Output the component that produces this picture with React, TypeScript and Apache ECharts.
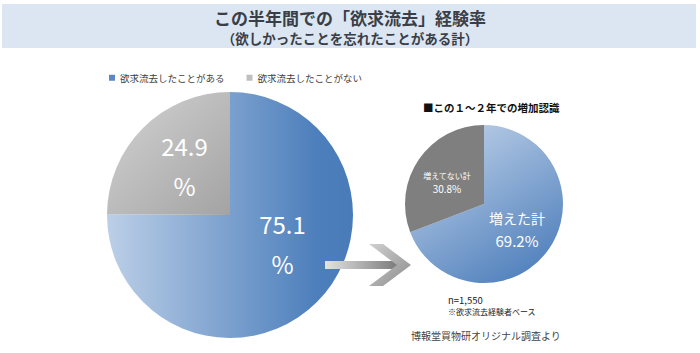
import React, { useEffect, useRef } from "react";
import * as echarts from "echarts";

const FONT = '"Noto Sans CJK JP", "Noto Sans", sans-serif';

const titleText = "この半年間での「欲求流去」経験率";
const subtitleText = "（欲しかったことを忘れたことがある計）";

const bigNames = ["欲求流去したことがある", "欲求流去したことがない"];
const bigValues = [75.1, 24.9];

const smallTitle = "■この１～２年での増加認識";
const smallNames = ["増えた計", "増えてない計"];
const smallValues = [69.2, 30.8];

const noteN = "n=1,550";
const noteBase = "※欲求流去経験者ベース";
const sourceText = "博報堂買物研オリジナル調査より";

export default function App() {
  const ref = useRef<HTMLDivElement>(null);

  useEffect(() => {
    document.body.style.margin = "0";
    const chart = echarts.init(ref.current!, null, { renderer: "svg" });

    const bigColors = [
      new echarts.graphic.LinearGradient(0, 0, 1, 0, [
        { offset: 0, color: "#bccfe7" },
        { offset: 0.85, color: "#4d7fbc" },
        { offset: 1, color: "#497bb9" },
      ]),
      new echarts.graphic.LinearGradient(0, 0, 1, 1, [
        { offset: 0, color: "#d4d4d4" },
        { offset: 1, color: "#a3a3a3" },
      ]),
    ];
    const smallColors = [
      new echarts.graphic.LinearGradient(0.25, 0, 0.85, 1, [
        { offset: 0, color: "#bccfe7" },
        { offset: 1, color: "#4a7cba" },
      ]),
      "#7f7f7f",
    ];

    const bigData = bigValues.map((v, i) => ({
      value: v,
      name: bigNames[i],
      itemStyle: { color: bigColors[i] },
    }));

    const smallData = smallValues.map((v, i) => ({
      value: v,
      name: smallNames[i],
      itemStyle: { color: smallColors[i] },
      label:
        i === 0
          ? {
              formatter: "{n|{b}}\n{v|{c}%}",
              rich: {
                n: { fontSize: 14, color: "#fff", fontFamily: FONT, lineHeight: 22, align: "center" },
                v: { fontSize: 15, color: "#fff", fontFamily: FONT, lineHeight: 22, align: "center" },
              },
            }
          : {
              formatter: "{n|{b}}\n{v|{c}%}",
              rich: {
                n: { fontSize: 8, color: "#fff", fontFamily: FONT, lineHeight: 13, align: "center" },
                v: { fontSize: 10, color: "#fff", fontFamily: FONT, lineHeight: 13, align: "center" },
              },
            },
    }));

    chart.setOption({
      animation: false,
      textStyle: { fontFamily: FONT },
      legend: {
        left: 104,
        top: 68,
        icon: "rect",
        itemWidth: 6,
        itemHeight: 6,
        itemGap: 22,
        textStyle: { fontSize: 9.5, color: "#404040", fontFamily: FONT },
        data: [
          { name: bigNames[0], itemStyle: { color: "#5b87c2" } },
          { name: bigNames[1], itemStyle: { color: "#bfbfbf" } },
        ],
        selectedMode: false,
      },
      graphic: [
        {
          type: "rect",
          z: 0,
          shape: { x: 2, y: 4, width: 694, height: 44 },
          style: { fill: "#dce6f2" },
        },
        {
          type: "text",
          x: 350,
          y: 17,
          style: {
            text: titleText,
            fontSize: 17,
            fontWeight: "bold",
            fontFamily: FONT,
            fill: "#3a3e47",
            align: "center",
            verticalAlign: "middle",
          },
        },
        {
          type: "text",
          x: 350,
          y: 38,
          style: {
            text: subtitleText,
            fontSize: 13.5,
            fontWeight: "bold",
            fontFamily: FONT,
            fill: "#3a3e47",
            align: "center",
            verticalAlign: "middle",
          },
        },
        {
          type: "text",
          x: 423,
          y: 107,
          style: {
            text: smallTitle,
            fontSize: 10.5,
            fontWeight: "bold",
            fontFamily: FONT,
            fill: "#111",
            align: "left",
            verticalAlign: "middle",
          },
        },
        {
          type: "rect",
          z: 100,
          shape: { x: 325, y: 261, width: 73, height: 8 },
          style: {
            fill: new echarts.graphic.LinearGradient(0, 0, 1, 0, [
              { offset: 0, color: "#e3e3e3" },
              { offset: 1, color: "#7a7a7a" },
            ]),
          },
        },
        {
          type: "polygon",
          z: 100,
          shape: {
            points: [
              [369, 244],
              [383, 244],
              [411, 265],
              [383, 286],
              [369, 286],
              [397, 265],
            ],
          },
          style: {
            fill: new echarts.graphic.LinearGradient(0, 0, 1, 1, [
              { offset: 0, color: "#d0d0d0" },
              { offset: 1, color: "#8c8c8c" },
            ]),
          },
        },
        {
          type: "text",
          x: 448,
          y: 300,
          style: {
            text: noteN,
            fontSize: 9.5,
            fontFamily: FONT,
            fill: "#222",
            align: "left",
            verticalAlign: "middle",
          },
        },
        {
          type: "text",
          x: 448,
          y: 311,
          style: {
            text: noteBase,
            fontSize: 8,
            fontFamily: FONT,
            fill: "#222",
            align: "left",
            verticalAlign: "middle",
          },
        },
        {
          type: "text",
          x: 411,
          y: 335,
          style: {
            text: sourceText,
            fontSize: 10,
            fontFamily: FONT,
            fill: "#444",
            align: "left",
            verticalAlign: "middle",
          },
        },
      ],
      series: [
        {
          type: "pie",
          center: [230, 215],
          radius: 123,
          startAngle: 90,
          clockwise: true,
          silent: true,
          itemStyle: { borderWidth: 0 },
          label: {
            show: true,
            position: "inside",
            formatter: (p: any) => p.value.toFixed(1) + "\n%",
            fontSize: 24,
            lineHeight: 40,
            color: "#ffffff",
            fontFamily: FONT,
          },
          labelLayout: (params: any) =>
            params.dataIndex === 0 ? { dx: 7, dy: -17 } : { dx: 0, dy: -4 },
          labelLine: { show: false },
          data: bigData,
        },
        {
          type: "pie",
          center: [484, 204],
          radius: 79,
          startAngle: 90,
          clockwise: true,
          silent: true,
          itemStyle: { borderWidth: 0 },
          label: { show: true, position: "inside", color: "#fff" },
          labelLayout: (params: any) =>
            params.dataIndex === 0 ? { dx: -2, dy: 1 } : { dx: -2, dy: 2 },
          labelLine: { show: false },
          data: smallData,
        },
      ],
    });

    return () => chart.dispose();
  }, []);

  return <div ref={ref} style={{ width: 700, height: 353 }} />;
}
